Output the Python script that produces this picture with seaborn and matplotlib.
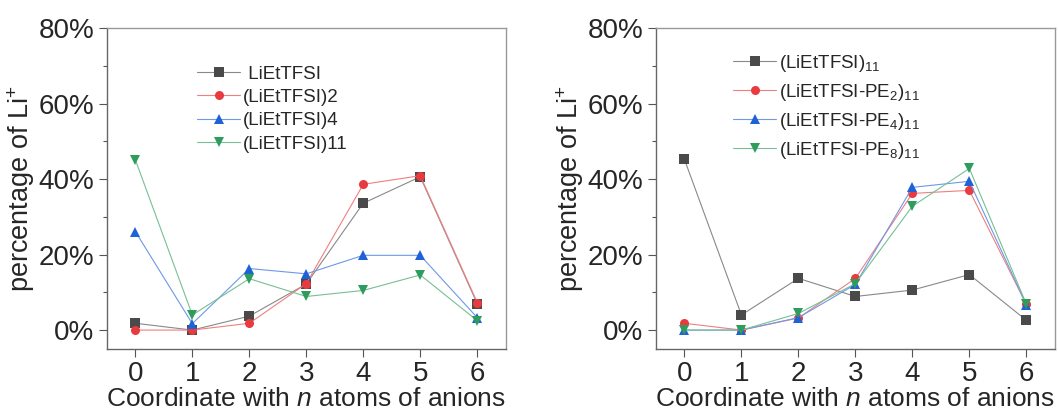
import pandas as pd
import matplotlib
matplotlib.use('Agg')
import matplotlib.pyplot as plt
import matplotlib.colors as mcolors
import seaborn as sns
from matplotlib.ticker import FuncFormatter, MultipleLocator

# coordination numbers
n_atoms = [0, 1, 2, 3, 4, 5, 6]

# left panel: cluster size
left_labels = [' LiEtTFSI', '(LiEtTFSI)2', '(LiEtTFSI)4', '(LiEtTFSI)11']
left_mono = [1.8, 0.0, 3.7, 12.2, 33.6, 40.6, 7.0]
left_di = [0.0, 0.0, 1.8, 12.3, 38.6, 40.9, 7.3]
left_tetra = [26.1, 1.7, 16.3, 14.9, 19.8, 19.8, 3.3]
left_undeca = [45.1, 4.0, 13.6, 8.9, 10.5, 14.6, 2.5]

# right panel: PE length
right_labels = ['(LiEtTFSI)$_{11}$', '(LiEtTFSI-PE$_{2}$)$_{11}$',
                '(LiEtTFSI-PE$_{4}$)$_{11}$', '(LiEtTFSI-PE$_{8}$)$_{11}$']
right_pe0 = [45.2, 4.0, 13.7, 8.9, 10.6, 14.7, 2.6]
right_pe2 = [1.8, 0.0, 3.2, 13.7, 36.2, 37.0, 6.8]
right_pe4 = [0.0, 0.0, 3.3, 12.1, 37.8, 39.4, 6.7]
right_pe8 = [0.0, 0.0, 4.4, 12.3, 32.8, 42.8, 6.9]

colors = ['#4a4a4a', '#e83a3f', '#1f62d8', '#2e9c5c']
markers = ['s', 'o', '^', 'v']

sns.set_theme(style='ticks')
plt.rcParams['font.family'] = ['Liberation Sans', 'DejaVu Sans']
plt.rcParams['mathtext.fontset'] = 'custom'
plt.rcParams['mathtext.rm'] = 'Liberation Sans'
plt.rcParams['mathtext.it'] = 'Liberation Sans:italic'


def make_df(labels, series):
    rows = []
    for lab, vals in zip(labels, series):
        for x, v in zip(n_atoms, vals):
            rows.append({'n': x, 'pct': v, 'sample': lab})
    return pd.DataFrame(rows)


def soften(line):
    # thin, lighter connecting line but full-colour marker
    c = mcolors.to_rgb(line.get_color())
    light = tuple(0.65 * v + 0.35 for v in c)
    line.set_markerfacecolor(c)
    line.set_markeredgecolor(c)
    line.set_color(light)


fig = plt.figure(figsize=(10.58, 4.12), dpi=100)
ax1 = fig.add_axes([0.101, 0.153, 0.377, 0.779])
ax2 = fig.add_axes([0.620, 0.153, 0.377, 0.779])

panels = [
    (ax1, left_labels, [left_mono, left_di, left_tetra, left_undeca], (0.226, 0.883), 0.33),
    (ax2, right_labels, [right_pe0, right_pe2, right_pe4, right_pe8], (0.193, 0.922), 0.42),
]

for ax, labels, series, leg_pos, spacing in panels:
    df = make_df(labels, series)
    sns.lineplot(data=df, x='n', y='pct', hue='sample', style='sample',
                 palette=dict(zip(labels, colors)),
                 markers=dict(zip(labels, markers)), dashes=False,
                 linewidth=0.8, markersize=6.5, markeredgewidth=0, ax=ax)
    for line in ax.lines:
        soften(line)
    ax.set_xlim(-0.5, 6.5)
    ax.set_ylim(-5, 80)
    ax.set_xticks(n_atoms)
    ax.yaxis.set_major_locator(MultipleLocator(20))
    ax.yaxis.set_minor_locator(MultipleLocator(10))
    ax.yaxis.set_major_formatter(FuncFormatter(lambda v, p: f'{v:.0f}%'))
    ax.tick_params(axis='both', which='major', labelsize=20, length=6,
                   width=0.8, color='#555555', direction='out', pad=3)
    ax.tick_params(axis='y', which='minor', length=3, width=0.8, color='#555555')
    for side in ['left', 'bottom']:
        ax.spines[side].set_color('#666666')
        ax.spines[side].set_linewidth(1.0)
    for side in ['top', 'right']:
        ax.spines[side].set_visible(True)
        ax.spines[side].set_color('#999999')
        ax.spines[side].set_linewidth(1.0)
    ax.set_xlabel('Coordinate with $n$ atoms of anions', fontsize=19, labelpad=0)
    ax.set_ylabel('percentage of Li$^{+}$', fontsize=19.5, labelpad=1)
    handles, labs = ax.get_legend_handles_labels()
    ax.legend(handles, labs, loc='upper left', bbox_to_anchor=leg_pos,
              frameon=False, fontsize=13.5, handlelength=2.3,
              handletextpad=0.15, labelspacing=spacing, borderpad=0,
              borderaxespad=0)

fig.savefig('out.png', dpi=100)
